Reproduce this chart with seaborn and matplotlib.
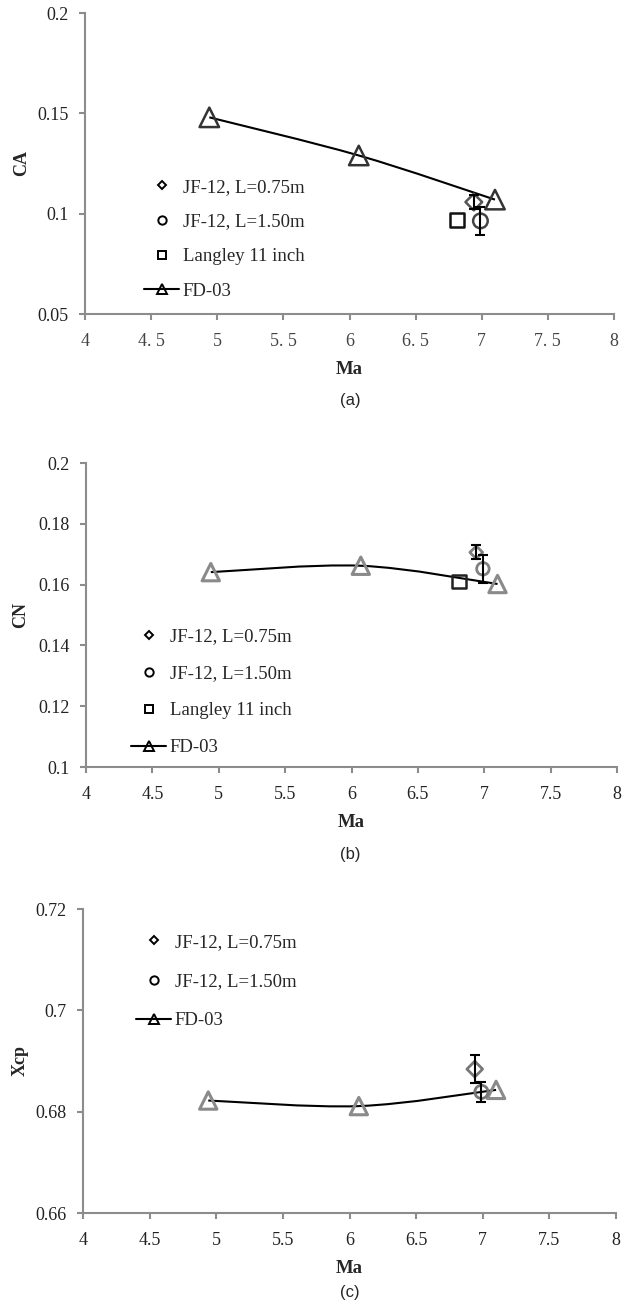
import numpy as np
import pandas as pd
import matplotlib
matplotlib.use("Agg")
import matplotlib.pyplot as plt
import seaborn as sns
from matplotlib.path import Path
from matplotlib.patches import PathPatch
from matplotlib.lines import Line2D

# values
ma_fd = [4.94, 6.07, 7.10]
ca_fd = [0.148, 0.129, 0.107]
cn_fd = [0.1641, 0.1662, 0.1602]
xcp_fd = [0.6822, 0.6811, 0.6843]

ma_jf075 = [6.94]
ma_jf150 = [6.99]
ma_langley = [6.81]

ca_jf075, ca_jf075_err = [0.1058], [0.0035]
ca_jf150, ca_jf150_err = [0.0964], [0.0069]
ca_langley = [0.0970]

cn_jf075, cn_jf075_err = [0.1706], [0.0023]
cn_jf150, cn_jf150_err = [0.1652], [0.0047]
cn_langley = [0.1609]

xcp_jf075, xcp_jf075_err = [0.6884], [0.0027]
xcp_jf150, xcp_jf150_err = [0.6839], [0.0019]

x_ticks = [4, 4.5, 5, 5.5, 6, 6.5, 7, 7.5, 8]
x_labels_a = ["4", "4. 5", "5", "5. 5", "6", "6. 5", "7", "7. 5", "8"]
x_labels = ["4", "4.5", "5", "5.5", "6", "6.5", "7", "7.5", "8"]
ca_ticks = [0.05, 0.1, 0.15, 0.2]
ca_labels = ["0.05", "0.1", "0.15", "0.2"]
cn_ticks = [0.1, 0.12, 0.14, 0.16, 0.18, 0.2]
cn_labels = ["0.1", "0.12", "0.14", "0.16", "0.18", "0.2"]
xcp_ticks = [0.66, 0.68, 0.70, 0.72]
xcp_labels = ["0.66", "0.68", "0.7", "0.72"]

lab_jf075 = "JF-12, L=0.75m"
lab_jf150 = "JF-12, L=1.50m"
lab_langley = "Langley 11 inch"
lab_fd = "FD-03"

sns.set_style("ticks")
plt.rcParams["font.family"] = ["Liberation Serif", "DejaVu Serif"]

SPINE = "#8c8c8c"


def smooth_path(x, y):
    # excel-style smoothed line: cubic bezier segments through the points
    pts = np.column_stack([x, y]).astype(float)
    n = len(pts)
    verts = [pts[0]]
    codes = [Path.MOVETO]
    for i in range(n - 1):
        p0 = pts[max(i - 1, 0)]
        p1 = pts[i]
        p2 = pts[i + 1]
        p3 = pts[min(i + 2, n - 1)]
        verts += [p1 + (p2 - p0) / 6, p2 - (p3 - p1) / 6, p2]
        codes += [Path.CURVE4] * 3
    return Path(verts, codes)


def points(ax, x, y, marker, ms, ec, lw=1.8):
    df = pd.DataFrame({"x": x, "y": y})
    sns.scatterplot(data=df, x="x", y="y", ax=ax, marker=marker, s=ms ** 2,
                    facecolor="none", edgecolor=ec, linewidth=lw, zorder=4)


def errbar(ax, x, y, err):
    ax.errorbar(x, y, yerr=err, fmt="none", ecolor="black", elinewidth=1.5,
                capsize=3.5, capthick=1.5, zorder=5)


def style_axes(ax, yticks, ylabels, xlabels, ylim, ylab, xlab_y, ylab_x):
    ax.set_xlim(4, 8)
    ax.set_ylim(*ylim)
    ax.set_xticks(x_ticks)
    ax.set_xticklabels(xlabels)
    ax.set_yticks(yticks)
    ax.set_yticklabels(ylabels)
    sns.despine(ax=ax)
    for s in ["left", "bottom"]:
        ax.spines[s].set_color(SPINE)
        ax.spines[s].set_linewidth(1.5)
    ax.tick_params(axis="both", direction="out", length=4, width=1.5,
                   color=SPINE, labelsize=13, labelcolor="#222222")
    ax.tick_params(axis="y", pad=8)
    ax.tick_params(axis="x", pad=10)
    ax.set_xlabel("Ma", fontsize=13.5, fontweight="bold", va="center")
    ax.set_ylabel(ylab, fontsize=13, fontweight="bold", va="center")
    ax.xaxis.set_label_coords(0.5, xlab_y)
    ax.yaxis.set_label_coords(ylab_x, 0.5)


def add_legend(ax, handles, labels, anchor, spacing):
    ax.legend(handles, labels, loc="upper left", bbox_to_anchor=anchor,
              frameon=False, fontsize=13.5, borderpad=0, borderaxespad=0,
              handlelength=1.87, handletextpad=0.2, labelspacing=spacing,
              numpoints=1)


fig = plt.figure(figsize=(6.36, 13.07), dpi=100)

ax_a = fig.add_axes([85 / 636, 1 - 314 / 1307, 529 / 636, 301 / 1307])
ax_b = fig.add_axes([86 / 636, 1 - 767 / 1307, 531 / 636, 304 / 1307])
ax_c = fig.add_axes([83 / 636, 1 - 1213 / 1307, 533 / 636, 304 / 1307])

h_jf075 = Line2D([], [], ls="none", marker="D", ms=4, mfc="none", mec="black", mew=1.4)
h_jf150 = Line2D([], [], ls="none", marker="o", ms=6, mfc="none", mec="black", mew=1.4)
h_langley = Line2D([], [], ls="none", marker="s", ms=6, mfc="none", mec="black", mew=1.4)
h_fd = Line2D([], [], color="black", lw=1.5, marker="^", ms=7, mfc="none", mec="black", mew=1.4)

# (a) CA
ax = ax_a
ax.add_patch(PathPatch(smooth_path(ma_fd, ca_fd), fill=False, color="black", lw=1.5, zorder=3))
errbar(ax, ma_jf075, ca_jf075, ca_jf075_err)
errbar(ax, ma_jf150, ca_jf150, ca_jf150_err)
points(ax, ma_fd, ca_fd, "^", 14, "#333333")
points(ax, ma_jf075, ca_jf075, "D", 8.5, "#555555")
points(ax, ma_jf150, ca_jf150, "o", 10.5, "#444444")
points(ax, ma_langley, ca_langley, "s", 10, "#111111")
style_axes(ax, ca_ticks, ca_labels, x_labels_a, (0.05, 0.2), "CA", -0.186, -0.119)
for t in ax.get_xticklabels():
    t.set_color("#444444")
add_legend(ax, [h_jf075, h_jf150, h_langley, h_fd],
           [lab_jf075, lab_jf150, lab_langley, lab_fd], (0.1115, 0.449), 0.93)

# (b) CN
ax = ax_b
ax.add_patch(PathPatch(smooth_path(ma_fd, cn_fd), fill=False, color="black", lw=1.5, zorder=3))
errbar(ax, ma_jf075, cn_jf075, cn_jf075_err)
errbar(ax, ma_jf150, cn_jf150, cn_jf150_err)
points(ax, ma_fd, cn_fd, "^", 12.5, "#8a8a8a", lw=2.2)
points(ax, ma_jf075, cn_jf075, "D", 6.5, "#808080", lw=2.0)
points(ax, ma_jf150, cn_jf150, "o", 9, "#808080", lw=2.0)
points(ax, ma_langley, cn_langley, "s", 9.5, "#222222")
style_axes(ax, cn_ticks, cn_labels, x_labels, (0.1, 0.2), "CN", -0.181, -0.124)
add_legend(ax, [h_jf075, h_jf150, h_langley, h_fd],
           [lab_jf075, lab_jf150, lab_langley, lab_fd], (0.0847, 0.457), 1.06)

# (c) Xcp
ax = ax_c
ax.add_patch(PathPatch(smooth_path(ma_fd, xcp_fd), fill=False, color="black", lw=1.5, zorder=3))
errbar(ax, ma_jf075, xcp_jf075, xcp_jf075_err)
errbar(ax, ma_jf150, xcp_jf150, xcp_jf150_err)
points(ax, ma_fd, xcp_fd, "^", 12.5, "#8a8a8a", lw=2.2)
points(ax, ma_jf075, xcp_jf075, "D", 8, "#777777", lw=2.0)
points(ax, ma_jf150, xcp_jf150, "o", 9.5, "#777777", lw=2.0)
style_axes(ax, xcp_ticks, xcp_labels, x_labels, (0.66, 0.72), "Xcp", -0.181, -0.118)
add_legend(ax, [h_jf075, h_jf150, h_fd], [lab_jf075, lab_jf150, lab_fd],
           (0.0994, 0.918), 1.17)

# panel captions
for label, ypix in [("(a)", 400), ("(b)", 855), ("(c)", 1292)]:
    fig.text(350 / 636, 1 - ypix / 1307, label, ha="center", va="center",
             fontsize=12, family=["Liberation Sans", "DejaVu Sans"])

fig.savefig("out.png", dpi=100)
